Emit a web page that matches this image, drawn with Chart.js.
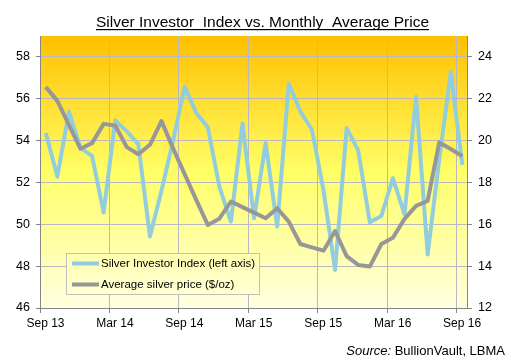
<!DOCTYPE html>
<html>
<head>
<meta charset="utf-8">
<script src="https://cdn.jsdelivr.net/npm/chart.js"></script>
<style>
  body { margin: 0; background: #fff; }
  #wrap { width: 511px; height: 359px; position: relative; }
</style>
</head>
<body>
<div id="wrap"><canvas id="chart"></canvas></div>
<script>
// month index 0 = Sep 13 ... 36 = Sep 16
const xTickLabels = ['Sep 13', 'Mar 14', 'Sep 14', 'Mar 15', 'Sep 15', 'Mar 16', 'Sep 16'];
const seriesNames = ['Silver Investor Index (left axis)', 'Average silver price ($/oz)'];

const investorIndex = [54.36, 52.28, 55.39, 53.65, 53.27, 50.56, 54.96, 54.44, 53.83, 49.42,
  51.6, 54.0, 56.58, 55.33, 54.64, 51.8, 50.13, 54.82, 50.29, 53.88,
  49.89, 56.72, 55.39, 54.52, 51.62, 47.82, 54.6, 53.53, 50.1, 50.4,
  52.2, 50.48, 56.1, 48.56, 53.1, 57.28, 52.84];

const silverPrice = [22.56, 21.9, 20.75, 19.61, 19.88, 20.8, 20.72, 19.69, 19.35, 19.8,
  20.93, 19.63, 18.4, 17.17, 15.97, 16.27, 17.09, 16.82, 16.56, 16.29,
  16.77, 16.13, 15.06, 14.9, 14.74, 15.68, 14.48, 14.06, 13.98, 15.06,
  15.36, 16.26, 16.88, 17.12, 19.91, 19.6, 19.25];

const leftTicks = [46, 59, 2];
const rightTicks = [12, 25, 2];

const gridColor = '#b9b7c2';
const axisColor = '#868686';

// monthly averages sit in the middle of each month
const toPoints = arr => arr.map((v, i) => ({ x: i + 0.5, y: v }));

Chart.defaults.font.family = '"Liberation Sans", Arial, sans-serif';
Chart.defaults.font.size = 12;
Chart.defaults.color = '#000';

let plotFill = null;

const background = {
  id: 'background',
  beforeDraw(chart) {
    const { ctx, chartArea: a } = chart;
    const g = ctx.createLinearGradient(0, a.top, 0, a.bottom);
    g.addColorStop(0, '#ffc000');
    g.addColorStop(0.5, '#ffff66');
    g.addColorStop(1, '#ffffe0');
    plotFill = g;
    ctx.save();
    ctx.fillStyle = g;
    ctx.fillRect(a.left, a.top, a.right - a.left, a.bottom - a.top);
    ctx.restore();
  }
};

const extras = {
  id: 'extras',
  afterDraw(chart) {
    const { ctx, chartArea: a } = chart;
    ctx.save();

    // title with underline
    ctx.font = '15.5px "Liberation Sans", Arial, sans-serif';
    ctx.fillStyle = '#000';
    ctx.textAlign = 'center';
    ctx.textBaseline = 'alphabetic';
    const title = 'Silver Investor  Index vs. Monthly  Average Price';
    const tx = 262.5, ty = 26.5;
    ctx.fillText(title, tx, ty);
    const w = ctx.measureText(title).width;
    ctx.fillRect(tx - w / 2, ty + 2.5, w, 1.2);

    // legend box
    const lx = a.left + 26, ly = a.bottom - 55, lw = 193, lh = 41;
    ctx.fillStyle = plotFill;
    ctx.fillRect(lx, ly, lw, lh);
    ctx.strokeStyle = '#c0c0c0';
    ctx.lineWidth = 1;
    ctx.strokeRect(lx + 0.5, ly + 0.5, lw, lh);
    ctx.font = '11.5px "Liberation Sans", Arial, sans-serif';
    ctx.textAlign = 'left';
    ctx.textBaseline = 'middle';
    chart.data.datasets.forEach((ds, k) => {
      const yy = ly + 10.5 + k * 21;
      ctx.strokeStyle = ds.borderColor;
      ctx.lineWidth = 4;
      ctx.beginPath();
      ctx.moveTo(lx + 6, yy);
      ctx.lineTo(lx + 33, yy);
      ctx.stroke();
      ctx.fillStyle = '#000';
      ctx.fillText(ds.label, lx + 35, yy);
    });

    // source
    ctx.textAlign = 'right';
    ctx.textBaseline = 'alphabetic';
    ctx.font = '13px "Liberation Sans", Arial, sans-serif';
    const rest = ' BullionVault, LBMA';
    const rx = 505, ry = 355;
    ctx.fillText(rest, rx, ry);
    const rw = ctx.measureText(rest).width;
    ctx.font = 'italic 13px "Liberation Sans", Arial, sans-serif';
    ctx.fillText('Source:', rx - rw, ry);

    ctx.restore();
  }
};

new Chart(document.getElementById('chart'), {
  type: 'line',
  data: {
    datasets: [
      {
        label: seriesNames[0],
        data: toPoints(investorIndex),
        yAxisID: 'y',
        borderColor: '#93cddd',
        borderWidth: 4,
        order: 2
      },
      {
        label: seriesNames[1],
        data: toPoints(silverPrice),
        yAxisID: 'y2',
        borderColor: '#979797',
        borderWidth: 4,
        order: 1
      }
    ]
  },
  options: {
    responsive: true,
    maintainAspectRatio: false,
    animation: false,
    layout: { padding: { top: 36, left: 0, right: 0, bottom: 0 } },
    elements: {
      point: { radius: 0 },
      line: { tension: 0, borderJoinStyle: 'round' }
    },
    plugins: {
      legend: { display: false },
      title: { display: false },
      tooltip: { enabled: false }
    },
    scales: {
      x: {
        type: 'linear',
        min: 0,
        max: 36.9,
        afterFit(s) { s.height = 51; },
        grid: { color: gridColor, tickColor: axisColor, tickLength: 5 },
        border: { color: axisColor },
        ticks: {
          stepSize: 6,
          includeBounds: false,
          maxRotation: 0,
          autoSkip: false,
          labelOffset: 5.5,
          padding: 3,
          callback: v => xTickLabels[v / 6]
        }
      },
      y: {
        position: 'left',
        min: leftTicks[0],
        max: leftTicks[1],
        afterFit(s) { s.width = 40; },
        grid: { color: gridColor, tickColor: axisColor, tickLength: 4 },
        border: { color: axisColor },
        ticks: { stepSize: leftTicks[2], includeBounds: false, padding: 6, font: { size: 12.5 } }
      },
      y2: {
        position: 'right',
        min: rightTicks[0],
        max: rightTicks[1],
        afterFit(s) { s.width = 44; },
        grid: { drawOnChartArea: false, tickColor: axisColor, tickLength: 5 },
        border: { color: axisColor },
        ticks: { stepSize: rightTicks[2], includeBounds: false, padding: 6, font: { size: 12.5 } }
      }
    }
  },
  plugins: [background, extras]
});
</script>
</body>
</html>
